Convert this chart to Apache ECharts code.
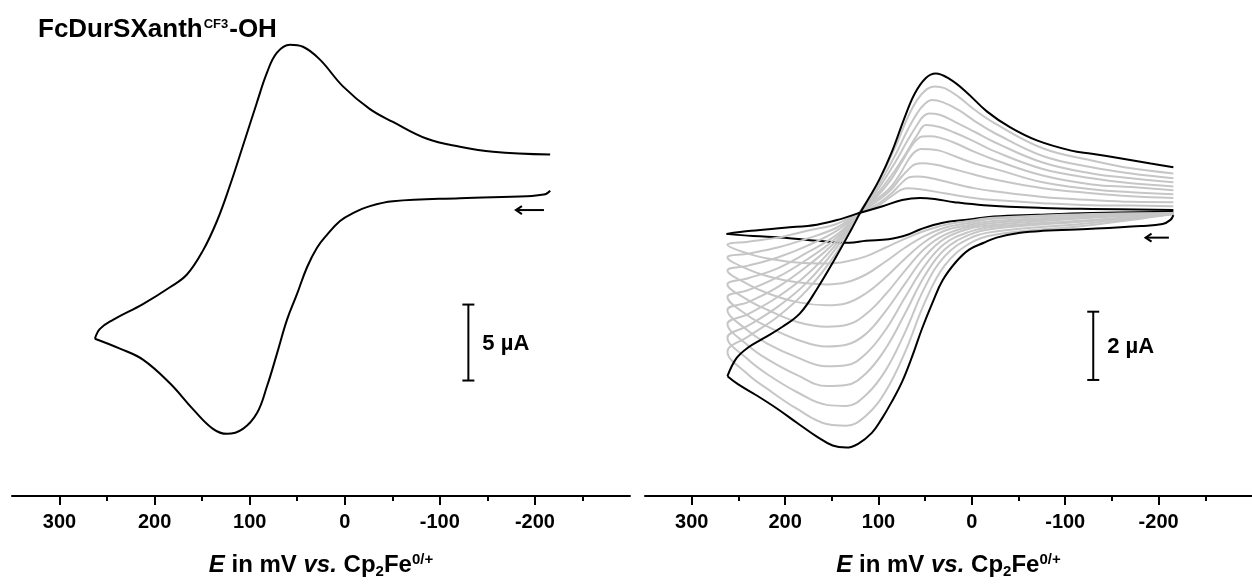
<!DOCTYPE html>
<html><head><meta charset="utf-8">
<script src="https://cdn.jsdelivr.net/npm/echarts@6/dist/echarts.min.js"></script>
<style>html,body{margin:0;padding:0;background:#fff}#c{width:1252px;height:584px}</style>
</head><body><div id="c"></div>
<script>
// ---- tick labels ----
const majorTicks = [300, 200, 100, 0, -100, -200];
const minorTicks = [250, 150, 50, -50, -150, -250];

// ---- left panel: [E (mV), I (µA)] ----
const leftForward = [[-216.1,-0.91],[-211.6,-1.12],[-205.3,-1.19],[-191.6,-1.27],[-121.1,-1.40],[-50.7,-1.60],[-26.5,-1.92],[-8.6,-2.38],[5.0,-2.90],[18.7,-3.81],[29.2,-4.66],[39.8,-5.96],[50.3,-7.72],[60.8,-9.41],[71.3,-11.63],[81.8,-13.78],[92.3,-15.54],[107.1,-16.58],[123.9,-16.91],[138.6,-16.58],[159.7,-15.28],[183.9,-13.58],[212.3,-12.02],[236.5,-11.30],[262.8,-10.65]];
const leftReverse = [[262.8,-10.65],[257.5,-10.0],[243.8,-9.41],[212.3,-8.37],[183.9,-7.26],[166.0,-6.42],[149.2,-4.85],[134.4,-2.90],[120.7,-0.55],[107.1,2.05],[92.3,4.92],[81.8,6.87],[71.3,8.18],[57.6,8.70],[44.0,8.57],[26.1,7.72],[1.9,5.96],[-26.5,4.46],[-50.7,3.62],[-86.5,2.51],[-121.1,1.99],[-155.9,1.66],[-216.0,1.47]];

// ---- right panel: outer (black), inner (black), gray1..gray9 (outer -> inner) ----
const outerForward = [[-215.8,-0.07],[-212.7,-0.21],[-204.2,-0.33],[-181.1,-0.39],[-128.5,-0.47],[-75.9,-0.53],[-51.7,-0.59],[-26.5,-0.73],[-12.8,-0.88],[2.9,-1.08],[16.6,-1.43],[31.3,-1.98],[41.9,-2.62],[53.4,-3.40],[63.9,-4.21],[74.5,-4.94],[86.0,-5.55],[96.5,-6.04],[107.1,-6.45],[121.8,-6.77],[134.4,-6.88],[149.1,-6.82],[166.0,-6.56],[187.0,-6.16],[208.0,-5.75],[231.2,-5.34],[250.1,-5.03],[261.7,-4.79]];
const outerReverse = [[261.7,-4.79],[252.2,-4.27],[239.6,-3.95],[223.8,-3.69],[202.8,-3.34],[183.8,-2.94],[166.0,-2.24],[147.0,-1.37],[129.2,-0.50],[119.7,-0.01],[110.2,0.43],[98.7,0.99],[86.0,1.76],[71.3,2.84],[60.8,3.51],[49.2,3.95],[38.7,4.08],[24.0,3.92],[6.1,3.54],[-16.0,2.97],[-41.2,2.50],[-69.6,2.12],[-106.4,1.82],[-128.5,1.73],[-160.1,1.59],[-191.6,1.44],[-215.8,1.33]];
const innerForward = [[-215.8,0.03],[-128.5,-0.01],[-69.6,-0.06],[-23.3,-0.11],[2.9,-0.20],[32.4,-0.30],[55.5,-0.49],[68.1,-0.64],[89.1,-0.78],[113.3,-0.82],[131.2,-0.88],[165.9,-0.82],[200.6,-0.73],[234.3,-0.68],[262.7,-0.62]];
const innerReverse = [[262.7,-0.62],[236.4,-0.53],[200.6,-0.44],[165.9,-0.35],[139.7,-0.18],[120.7,-0.01],[95.6,0.19],[74.6,0.37],[55.5,0.43],[39.8,0.40],[18.7,0.31],[-12.8,0.22],[-75.9,0.14],[-128.5,0.11],[-215.8,0.08]];

const gray1 = [[-215.8,-0.04],[-128.5,-0.36],[-23.3,-0.65],[2.9,-0.91],[29.2,-1.55],[50.3,-2.62],[71.3,-4.07],[92.3,-5.23],[113.4,-5.95],[134.4,-6.24],[155.4,-6.19],[187.0,-5.75],[218.6,-5.17],[239.6,-4.74],[261.7,-4.07],
  [261.7,-4.07],[239.6,-3.63],[208.0,-3.05],[176.5,-2.27],[144.9,-1.17],[120.7,-0.01],[102.9,0.75],[81.8,1.94],[69.2,2.76],[58.7,3.30],[48.2,3.62],[39.8,3.70],[29.2,3.65],[13.5,3.38],[-2.3,3.03],[-23.3,2.64],[-75.9,1.89],[-128.5,1.53],[-170.6,1.30],[-215.8,1.15]];
const gray2 = [[-215.8,-0.04],[-128.5,-0.30],[-23.3,-0.56],[2.9,-0.76],[29.2,-1.28],[50.3,-2.18],[71.3,-3.49],[92.3,-4.62],[113.4,-5.34],[134.4,-5.66],[155.4,-5.63],[187.0,-5.26],[218.6,-4.74],[239.6,-4.30],[261.7,-3.66],
  [261.7,-3.66],[239.6,-3.31],[208.0,-2.76],[176.5,-2.04],[144.9,-1.02],[120.7,-0.01],[102.9,0.67],[81.8,1.70],[69.2,2.40],[58.7,2.91],[50.3,3.19],[42.9,3.30],[31.3,3.24],[13.5,3.00],[-2.3,2.70],[-23.3,2.35],[-75.9,1.66],[-128.5,1.33],[-170.6,1.15],[-215.8,1.01]];
const gray3 = [[-215.8,-0.04],[-128.5,-0.24],[-23.3,-0.47],[2.9,-0.65],[29.2,-1.08],[50.3,-1.84],[71.3,-2.94],[92.3,-3.98],[113.4,-4.71],[134.4,-5.05],[155.4,-5.08],[187.0,-4.76],[218.6,-4.30],[239.6,-3.89],[261.7,-3.26],
  [261.7,-3.26],[239.6,-2.97],[208.0,-2.47],[176.5,-1.81],[144.9,-0.91],[120.7,-0.01],[102.9,0.59],[81.8,1.49],[69.2,2.10],[58.7,2.57],[52.4,2.81],[46.1,2.91],[34.5,2.87],[18.7,2.67],[-2.3,2.38],[-23.3,2.08],[-75.9,1.47],[-128.5,1.15],[-170.6,1.01],[-215.8,0.89]];
const gray4 = [[-215.8,-0.04],[-128.5,-0.21],[-23.3,-0.41],[2.9,-0.56],[29.2,-0.91],[50.3,-1.55],[71.3,-2.47],[92.3,-3.43],[113.4,-4.13],[134.4,-4.47],[155.4,-4.50],[187.0,-4.24],[218.6,-3.84],[239.6,-3.46],[261.7,-2.85],
  [261.7,-2.85],[239.6,-2.62],[208.0,-2.18],[176.5,-1.57],[144.9,-0.82],[120.7,-0.01],[102.9,0.50],[81.8,1.26],[69.2,1.80],[58.7,2.27],[49.2,2.57],[34.5,2.51],[18.7,2.35],[-2.3,2.09],[-23.3,1.81],[-75.9,1.28],[-128.5,1.01],[-170.6,0.86],[-215.8,0.77]];
const gray5 = [[-215.8,-0.04],[-128.5,-0.15],[-23.3,-0.36],[2.9,-0.47],[29.2,-0.76],[50.3,-1.28],[71.3,-2.07],[92.3,-2.88],[113.4,-3.55],[134.4,-3.87],[155.4,-3.92],[187.0,-3.72],[218.6,-3.34],[239.6,-3.02],[261.7,-2.47],
  [261.7,-2.47],[239.6,-2.27],[208.0,-1.89],[176.5,-1.37],[144.9,-0.73],[120.7,-0.01],[102.9,0.44],[87.1,0.95],[76.6,1.41],[66.0,1.90],[59.7,2.12],[53.4,2.23],[45.0,2.24],[34.5,2.20],[18.7,2.05],[-2.3,1.79],[-23.3,1.56],[-75.9,1.09],[-128.5,0.83],[-170.6,0.75],[-215.8,0.66]];
const gray6 = [[-215.8,-0.04],[-128.5,-0.12],[-23.3,-0.30],[2.9,-0.41],[29.2,-0.65],[50.3,-1.05],[71.3,-1.69],[92.3,-2.39],[113.4,-2.97],[134.4,-3.29],[155.4,-3.34],[187.0,-3.20],[218.6,-2.85],[239.6,-2.56],[261.7,-2.10],
  [261.7,-2.10],[239.6,-1.92],[208.0,-1.63],[176.5,-1.17],[144.9,-0.65],[120.7,-0.01],[102.9,0.37],[87.1,0.74],[76.6,1.15],[67.1,1.59],[60.8,1.79],[54.5,1.87],[45.0,1.86],[34.5,1.82],[18.7,1.66],[-2.3,1.45],[-23.3,1.30],[-75.9,0.89],[-128.5,0.69],[-170.6,0.60],[-215.8,0.54]];
const gray7 = [[-215.8,-0.02],[-128.5,-0.10],[-23.3,-0.24],[2.9,-0.36],[29.2,-0.53],[50.3,-0.85],[71.3,-1.34],[92.3,-1.89],[113.4,-2.36],[134.4,-2.65],[155.4,-2.71],[187.0,-2.62],[218.6,-2.36],[239.6,-2.10],[261.7,-1.69],
  [261.7,-1.69],[239.6,-1.55],[208.0,-1.31],[176.5,-0.97],[144.9,-0.53],[120.7,-0.01],[102.9,0.31],[87.1,0.66],[76.6,1.01],[68.2,1.26],[60.8,1.42],[52.4,1.45],[39.8,1.41],[24.0,1.31],[-2.3,1.12],[-23.3,0.98],[-75.9,0.72],[-128.5,0.57],[-170.6,0.48],[-215.8,0.43]];
const gray8 = [[-215.8,-0.02],[-128.5,-0.07],[-23.3,-0.18],[2.9,-0.30],[29.2,-0.44],[50.3,-0.68],[71.3,-1.02],[92.3,-1.43],[113.4,-1.81],[134.4,-2.04],[155.4,-2.10],[187.0,-2.04],[218.6,-1.86],[239.6,-1.66],[261.7,-1.31],
  [261.7,-1.31],[239.6,-1.20],[208.0,-1.02],[176.5,-0.76],[144.9,-0.44],[120.7,-0.01],[102.9,0.22],[87.1,0.54],[75.5,0.86],[67.1,1.04],[58.7,1.06],[45.0,1.02],[29.2,0.92],[-2.3,0.72],[-23.3,0.63],[-75.9,0.46],[-128.5,0.37],[-170.6,0.32],[-215.8,0.31]];
const gray9 = [[-215.8,-0.01],[-128.5,-0.04],[-23.3,-0.15],[2.9,-0.24],[29.2,-0.36],[50.3,-0.53],[71.3,-0.76],[92.3,-1.02],[113.4,-1.28],[134.4,-1.43],[155.4,-1.49],[187.0,-1.46],[218.6,-1.34],[239.6,-1.20],[261.7,-0.94],
  [261.7,-0.94],[239.6,-0.85],[208.0,-0.73],[176.5,-0.53],[144.9,-0.33],[120.7,-0.01],[102.9,0.17],[87.1,0.46],[76.6,0.66],[69.2,0.72],[55.5,0.69],[29.2,0.57],[-2.3,0.43],[-23.3,0.37],[-75.9,0.28],[-128.5,0.22],[-170.6,0.21],[-215.8,0.19]];
const grayCurves = [gray1, gray2, gray3, gray4, gray5, gray6, gray7, gray8, gray9];

const FONT = '"Liberation Sans", Arial, Helvetica, sans-serif';

function xAxisMain(gi) {
  return {
    type: 'value', gridIndex: gi, min: -300, max: 350, inverse: true, position: 'bottom',
    axisLine: { show: true, onZero: false, lineStyle: { color: '#000', width: 2 } },
    axisTick: { show: true, length: 9, customValues: majorTicks, lineStyle: { color: '#000', width: 2 } },
    axisLabel: { customValues: majorTicks, margin: 16, color: '#000', fontSize: 20, fontWeight: 'bold', fontFamily: FONT },
    splitLine: { show: false },
    name: '{i|E} in mV {i|vs.} Cp{sub|2}Fe{sup|0/+}',
    nameLocation: 'middle', nameGap: 55,
    nameTextStyle: {
      color: '#000', fontSize: 24, fontWeight: 'bold', fontFamily: FONT,
      rich: {
        i: { fontStyle: 'italic', fontWeight: 'bold', fontSize: 24, fontFamily: FONT, color: '#000' },
        sub: { fontSize: 15, fontWeight: 'bold', fontFamily: FONT, color: '#000', padding: [13, 0, 0, 0] },
        sup: { fontSize: 15, fontWeight: 'bold', fontFamily: FONT, color: '#000', padding: [0, 0, 11, 0] }
      }
    }
  };
}
function xAxisMinor(gi) {
  return {
    type: 'value', gridIndex: gi, min: -300, max: 350, inverse: true, position: 'bottom',
    axisLine: { show: false, onZero: false },
    axisTick: { show: true, length: 5, customValues: minorTicks, lineStyle: { color: '#000', width: 2 } },
    axisLabel: { show: false }, splitLine: { show: false }
  };
}

function lineSeries(data, xi, yi, color, z) {
  return { type: 'line', data, xAxisIndex: xi, yAxisIndex: yi, showSymbol: false, symbol: 'none',
    smooth: 0.4, lineStyle: { color, width: 2 }, z, silent: true, animation: false, clip: false };
}

function scaleBarSeries(xi, yi, data, label) {
  return {
    type: 'custom', xAxisIndex: xi, yAxisIndex: yi, data, z: 10, silent: true, animation: false,
    renderItem: (params, api) => {
      const p0 = api.coord([api.value(0), api.value(1)]);
      const p1 = api.coord([api.value(0), api.value(2)]);
      const ls = { stroke: '#000', lineWidth: 2 };
      return { type: 'group', children: [
        { type: 'line', shape: { x1: p0[0], y1: p0[1], x2: p1[0], y2: p1[1] }, style: ls },
        { type: 'line', shape: { x1: p0[0] - 6, y1: p0[1], x2: p0[0] + 6, y2: p0[1] }, style: ls },
        { type: 'line', shape: { x1: p1[0] - 6, y1: p1[1], x2: p1[0] + 6, y2: p1[1] }, style: ls },
        { type: 'text', style: { text: label, x: p0[0] + 14, y: (p0[1] + p1[1]) / 2 + 1, verticalAlign: 'middle',
          font: 'bold 22px ' + FONT, fill: '#000' } }
      ] };
    }
  };
}
function arrowSeries(xi, yi, data) {
  return {
    type: 'custom', xAxisIndex: xi, yAxisIndex: yi, data, z: 10, silent: true, animation: false,
    renderItem: (params, api) => {
      const a = api.coord([api.value(0), api.value(2)]);
      const b = api.coord([api.value(1), api.value(2)]);
      const ls = { stroke: '#000', lineWidth: 2, fill: null };
      return { type: 'group', children: [
        { type: 'line', shape: { x1: a[0], y1: a[1], x2: b[0], y2: b[1] }, style: ls },
        { type: 'polyline', shape: { points: [[b[0] + 6, b[1] - 4], [b[0], b[1]], [b[0] + 6, b[1] + 4]] }, style: ls }
      ] };
    }
  };
}

const series = [
  lineSeries(leftForward, 0, 0, '#000', 5),
  lineSeries(leftReverse, 0, 0, '#000', 5),
  scaleBarSeries(0, 0, [[-130, -13.4, -8.4]], '5 µA'),
  arrowSeries(0, 0, [[-209.5, -180, -2.18]]),
  lineSeries(innerForward, 2, 1, '#000', 2)
];
grayCurves.forEach(g => series.push(lineSeries(g, 2, 1, '#c6c6c6', 3)));
series.push(
  lineSeries(innerReverse, 2, 1, '#000', 5),
  lineSeries(outerForward, 2, 1, '#000', 5),
  lineSeries(outerReverse, 2, 1, '#000', 5),
  scaleBarSeries(2, 1, [[-130, -4.9, -2.9]], '2 µA'),
  arrowSeries(2, 1, [[-211, -186, -0.73]])
);

const chart = echarts.init(document.getElementById('c'), null, { renderer: 'canvas' });
chart.setOption({
  animation: false,
  backgroundColor: '#fff',
  title: {
    text: 'FcDurSXanth{sup|CF3}-OH', left: 33, top: 12,
    textStyle: { color: '#000', fontSize: 26, fontWeight: 'bold', fontFamily: FONT,
      rich: { sup: { fontSize: 13, fontWeight: 'bold', fontFamily: FONT, color: '#000', padding: [0, 1, 12, 1] } } }
  },
  grid: [
    { left: 12, top: 25, width: 618, height: 476 },
    { left: 645, top: 25, width: 618, height: 476 }
  ],
  xAxis: [xAxisMain(0), xAxisMinor(0), xAxisMain(1), xAxisMinor(1)],
  yAxis: [
    { type: 'value', gridIndex: 0, min: -21, max: 10, show: false, splitLine: { show: false } },
    { type: 'value', gridIndex: 1, min: -8.3, max: 5.5, show: false, splitLine: { show: false } }
  ],
  series
});
</script></body></html>
